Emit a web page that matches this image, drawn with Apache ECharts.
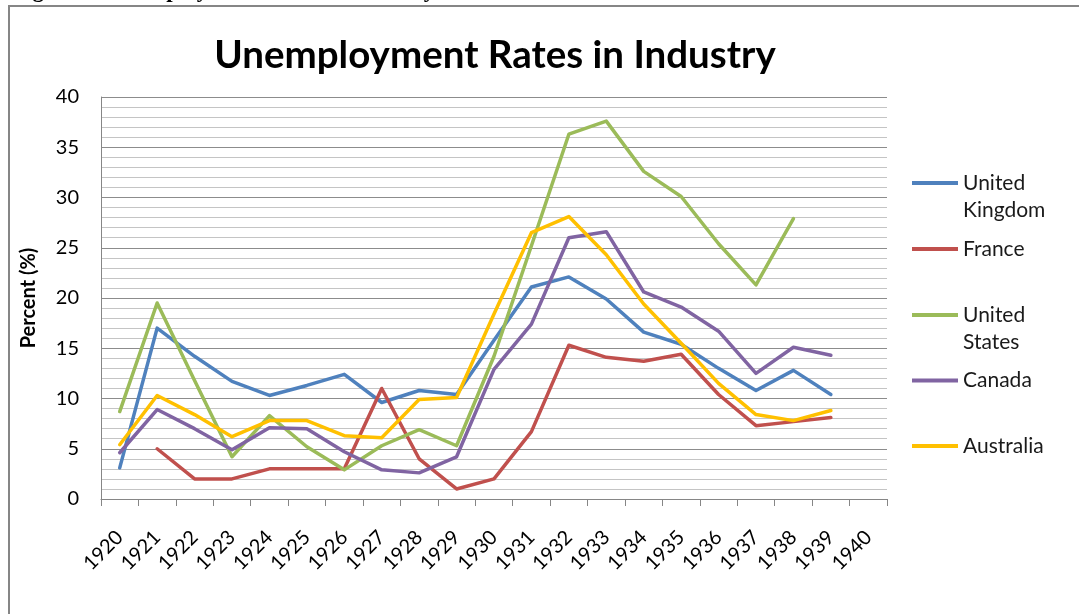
<!DOCTYPE html>
<html>
<head>
<meta charset="utf-8">
<title>Unemployment Rates in Industry</title>
<script src="https://cdn.jsdelivr.net/npm/echarts@6/dist/echarts.min.js"></script>
<style>
  html, body { margin: 0; padding: 0; background: #ffffff; }
  #chart { width: 1079px; height: 614px; }
</style>
</head>
<body>
<div id="chart"></div>
<script>
// Industrial unemployment rates (percent), 1920-1939
const years = ['1920', '1921', '1922', '1923', '1924', '1925', '1926', '1927', '1928', '1929',
               '1930', '1931', '1932', '1933', '1934', '1935', '1936', '1937', '1938', '1939', '1940'];

const unitedKingdom = [3.1, 17.0, 14.2, 11.7, 10.3, 11.3, 12.4, 9.6, 10.8, 10.4,
                       15.8, 21.1, 22.1, 19.9, 16.6, 15.4, 13.0, 10.8, 12.8, 10.4];
const france        = [null, 5.0, 2.0, 2.0, 3.0, 3.0, 3.0, 11.0, 4.0, 1.0,
                       2.0, 6.7, 15.3, 14.1, 13.7, 14.4, 10.4, 7.3, 7.7, 8.1];
const unitedStates  = [8.7, 19.5, 11.8, 4.2, 8.3, 5.2, 2.9, 5.3, 6.9, 5.3,
                       14.2, 25.2, 36.3, 37.6, 32.6, 30.1, 25.4, 21.3, 27.9, null];
const canada        = [4.6, 8.9, 7.0, 4.9, 7.1, 7.0, 4.7, 2.9, 2.6, 4.2,
                       12.9, 17.4, 26.0, 26.6, 20.6, 19.1, 16.7, 12.5, 15.1, 14.3];
const australia     = [5.4, 10.3, 8.4, 6.2, 7.8, 7.8, 6.3, 6.1, 9.9, 10.1,
                       18.4, 26.5, 28.1, 24.3, 19.4, 15.5, 11.5, 8.4, 7.8, 8.8];

const seriesNames  = ['United Kingdom', 'France', 'United States', 'Canada', 'Australia'];
const seriesColors = ['#4F81BD', '#C0504D', '#9BBB59', '#8064A2', '#FFC000'];
const seriesValues = [unitedKingdom, france, unitedStates, canada, australia];

const FONT = 'Lato, "Open Sans", sans-serif';
const LEGEND_LINE = 27;

// one legend block per country; two-word names wrap, with the first line level with the swatch
const legendTops = [142.5, 235.5, 274.5, 367, 432.5];
const legends = seriesNames.map((name, i) => ({
  data: [{ name: name, icon: 'rect' }],
  orient: 'vertical',
  left: 912,
  top: legendTops[i],
  padding: 0,
  itemWidth: 46,
  itemHeight: 4,
  selectedMode: false,
  formatter: n => (n.indexOf(' ') > 0 ? '\n' + n.replace(' ', '\n') : n),
  textStyle: {
    fontFamily: FONT,
    fontSize: 21,
    lineHeight: LEGEND_LINE,
    color: '#1a1a1a'
  }
}));

const chart = echarts.init(document.getElementById('chart'), null, { renderer: 'canvas' });

chart.setOption({
  animation: false,
  backgroundColor: '#ffffff',
  title: {
    text: 'Unemployment Rates in Industry',
    left: 490,
    top: 31,
    textAlign: 'center',
    textStyle: { fontFamily: FONT, fontSize: 38.5, fontWeight: 'bold', color: '#000000' }
  },
  graphic: [
    {
      type: 'rect',
      shape: { x: 9, y: 6, width: 1200, height: 800 },
      style: { fill: 'none', stroke: '#868686', lineWidth: 2 },
      silent: true
    },
    {
      // document caption above the chart frame, cut off by the top edge
      type: 'text',
      x: 12,
      y: -9,
      style: {
        text: 'Figure 3: Unemployment Rates in Industry',
        font: 'bold 23px "Liberation Serif", serif',
        fill: '#000000',
        verticalAlign: 'middle'
      },
      silent: true
    }
  ],
  legend: legends,
  grid: { left: 101, right: 192, top: 97, bottom: 115, containLabel: false, outerBoundsMode: 'none' },
  xAxis: {
    type: 'category',
    data: years,
    boundaryGap: true,
    axisLine: { show: true, lineStyle: { color: '#868686', width: 1 } },
    axisTick: { show: true, interval: 0, length: 7, lineStyle: { color: '#868686', width: 1 } },
    axisLabel: {
      interval: 0,
      rotate: 45,
      margin: 35,
      fontFamily: FONT,
      fontSize: 20,
      color: '#000000'
    },
    splitLine: { show: false }
  },
  yAxis: {
    type: 'value',
    min: 0,
    max: 40,
    interval: 5,
    name: 'Percent (%)',
    nameLocation: 'middle',
    nameRotate: 90,
    nameGap: 62,
    nameTextStyle: { fontFamily: FONT, fontSize: 20, fontWeight: 'bold', color: '#000000' },
    axisLine: { show: true, lineStyle: { color: '#868686', width: 1 } },
    axisTick: { show: false },
    axisLabel: { margin: 22, fontFamily: FONT, fontSize: 20, color: '#000000' },
    splitLine: { show: true, lineStyle: { color: '#8c8c8c', width: 1 } },
    minorTick: { show: false, splitNumber: 5 },
    minorSplitLine: { show: true, lineStyle: { color: '#c4c4c4', width: 1 } }
  },
  series: seriesNames.map((name, i) => ({
    name: name,
    type: 'line',
    data: seriesValues[i],
    showSymbol: false,
    symbol: 'none',
    connectNulls: false,
    color: seriesColors[i],
    lineStyle: { color: seriesColors[i], width: 3.5, join: 'round', cap: 'round' },
    emphasis: { disabled: true }
  }))
});
</script>
</body>
</html>
